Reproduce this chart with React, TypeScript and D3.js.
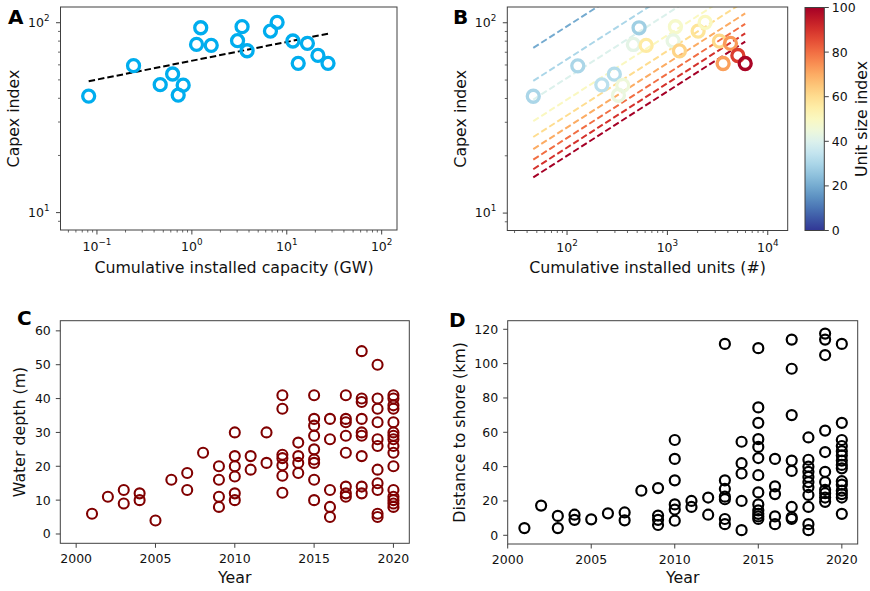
import React from 'react';
import * as d3 from 'd3';

// ---------- Panel A / B data ----------
const capacityGW = [0.0818, 0.243, 0.464, 0.627, 0.81, 0.718, 1.24, 1.12, 1.6, 3.38, 3.03, 3.82, 6.73, 7.91, 11.6, 16.5, 13.2, 21.3, 27.2];
const capexIndex = [41.1, 59.4, 47.2, 53.7, 46.9, 41.6, 94.1, 76.9, 76.0, 95.3, 80.4, 71.2, 90.4, 100.5, 80.1, 77.9, 61.1, 67.3, 61.1];
const cumUnits = [46.1, 128, 222, 296, 359, 325, 522, 458, 614, 1202, 1140, 1318, 2024, 2377, 3300, 4250, 3590, 5035, 5960];
const unitSize = [30, 30, 33, 32, 45, 44, 28, 42, 56, 48, 43, 62, 58, 50, 61, 73, 72, 88, 99];
const fitCapacity = [0.0818, 27.2];
const fitCapex = [49.2, 87.5];
const curveSizes = [20, 30, 40, 50, 60, 70, 80, 90, 100];
const curveUnits = [46.1, 5960];
const curveStartCapex = [73.8, 49.5, 39.5, 30.4, 25.1, 21.7, 19.1, 17.0, 15.4];
const curveEndCapex = [381, 256, 204, 157, 130, 112, 98.7, 87.9, 79.6];

// ---------- Panel C data ----------
const depthYears = [2001, 2002, 2003, 2004, 2005, 2006, 2007, 2008, 2009, 2010, 2011, 2012, 2013, 2014, 2015, 2016, 2017, 2018, 2019, 2020];
const depthValues = [
  [6], [11], [13, 9], [12, 10], [4], [16], [18, 13], [24], [20, 16, 11, 8],
  [30, 23, 20, 17, 12, 10], [23, 19], [30, 21],
  [41, 37, 23.4, 22.4, 20.3, 17.2, 12.2], [27, 23, 21, 18],
  [41, 34, 32, 29, 25, 22, 21, 16, 10], [34, 28, 13, 8, 5],
  [41, 34, 33, 29, 24, 14, 12, 11], [54, 40, 39, 34, 30, 29, 23, 14, 12],
  [50, 40, 37, 33, 28, 26, 19, 15, 13, 6, 5],
  [41, 40, 38, 37, 33, 30, 29, 28, 26, 24, 20, 13, 11, 10, 9, 8],
];

// ---------- Panel D data ----------
const shoreYears = [2001, 2002, 2003, 2004, 2005, 2006, 2007, 2008, 2009, 2010, 2011, 2012, 2013, 2014, 2015, 2016, 2017, 2018, 2019, 2020];
const shoreValues = [
  [4.2], [17.3], [11.3, 4.2], [12, 9], [9.3], [12.8], [13.3, 8.7], [26], [27.5, 11.5, 9, 6],
  [55.5, 44.5, 32, 18, 15, 8.5], [20, 16.5], [22, 12],
  [111.5, 32, 27, 22.5, 21, 9.5, 6.5], [54.5, 42, 36, 20, 3],
  [109, 74.5, 65.5, 56, 51.5, 45, 35, 25, 18, 14.5, 12.5, 11, 9.5],
  [44.5, 28.5, 24, 11, 6.5],
  [114, 97, 70, 43.5, 37.5, 16.5, 10.5, 9.5],
  [57, 44, 40, 37, 34, 31, 28, 23.5, 16.5, 6.5, 3],
  [117.5, 114, 105, 61, 48.5, 37, 31, 26.5, 24.5, 22, 19.5],
  [111.5, 65.5, 55.5, 52, 49, 46.5, 43.5, 41, 39, 31.5, 29.5, 26, 24, 22, 12.5],
];

const yearTicks = [2000, 2005, 2010, 2015, 2020];
const depthTicks = [0, 10, 20, 30, 40, 50, 60];
const shoreTicks = [0, 20, 40, 60, 80, 100, 120];
const colorbarTicks = [0, 20, 40, 60, 80, 100];

const FONT = 'DejaVu Sans, sans-serif';
const AX = '#404040';
const TICK_FS = 12.5;
const LABEL_FS = 15.8;
const TL = 4.5;

const cmap = (v: number) => d3.interpolateRdYlBu(1 - v / 100);
const supMap: Record<string, string> = { '-': '\u2212' };

function logTicks(domain: number[]) {
  const [a, b] = domain;
  const majors: number[] = [];
  const minors: number[] = [];
  for (let e = Math.floor(Math.log10(a)); e <= Math.ceil(Math.log10(b)); e++) {
    const p = Math.pow(10, e);
    if (p >= a && p <= b) majors.push(p);
    for (let k = 2; k <= 9; k++) {
      const v = k * p;
      if (v >= a && v <= b) minors.push(v);
    }
  }
  return { majors, minors };
}

function Frame({ x0, x1, y0, y1 }: any) {
  return <rect x={x0} y={y0} width={x1 - x0} height={y1 - y0} fill="none" stroke={AX} strokeWidth={1} />;
}

function LogXAxis({ scale, y }: any) {
  const { majors, minors } = logTicks(scale.domain());
  return (
    <g>
      {minors.map((v: number, i: number) => (
        <line key={'m' + i} x1={scale(v)} x2={scale(v)} y1={y} y2={y + 2.5} stroke={AX} strokeWidth={0.8} />
      ))}
      {majors.map((v: number, i: number) => {
        const e = Math.round(Math.log10(v));
        const es = String(e).split('').map((c) => supMap[c] || c).join('');
        return (
          <g key={'M' + i}>
            <line x1={scale(v)} x2={scale(v)} y1={y} y2={y + TL} stroke={AX} strokeWidth={1} />
            <text x={scale(v)} y={y + 21} textAnchor="middle" fontSize={TICK_FS} fontFamily={FONT} fill="#111">
              10<tspan dy={-6} fontSize={8.8}>{es}</tspan>
            </text>
          </g>
        );
      })}
    </g>
  );
}

function LogYAxis({ scale, x }: any) {
  const { majors, minors } = logTicks(scale.domain());
  return (
    <g>
      {minors.map((v: number, i: number) => (
        <line key={'m' + i} x1={x - 2.5} x2={x} y1={scale(v)} y2={scale(v)} stroke={AX} strokeWidth={0.8} />
      ))}
      {majors.map((v: number, i: number) => {
        const e = Math.round(Math.log10(v));
        return (
          <g key={'M' + i}>
            <line x1={x - TL} x2={x} y1={scale(v)} y2={scale(v)} stroke={AX} strokeWidth={1} />
            <text x={x - 11} y={scale(v) + 4.3} textAnchor="end" fontSize={TICK_FS} fontFamily={FONT} fill="#111">
              10<tspan dy={-6} fontSize={8.8}>{String(e)}</tspan>
            </text>
          </g>
        );
      })}
    </g>
  );
}

function LinXAxis({ scale, y, ticks }: any) {
  return (
    <g>
      {ticks.map((v: number) => (
        <g key={v}>
          <line x1={scale(v)} x2={scale(v)} y1={y} y2={y + TL} stroke={AX} strokeWidth={1} />
          <text x={scale(v)} y={y + 19.5} textAnchor="middle" fontSize={TICK_FS} fontFamily={FONT} fill="#111">{v}</text>
        </g>
      ))}
    </g>
  );
}

function LinYAxis({ scale, x, ticks }: any) {
  return (
    <g>
      {ticks.map((v: number) => (
        <g key={v}>
          <line x1={x - TL} x2={x} y1={scale(v)} y2={scale(v)} stroke={AX} strokeWidth={1} />
          <text x={x - 9.5} y={scale(v) + 4.5} textAnchor="end" fontSize={TICK_FS} fontFamily={FONT} fill="#111">{v}</text>
        </g>
      ))}
    </g>
  );
}

function XLabel({ x, y, text }: any) {
  return <text x={x} y={y} textAnchor="middle" fontSize={LABEL_FS} fontFamily={FONT} fill="#111">{text}</text>;
}
function YLabel({ x, y, text }: any) {
  return (
    <text transform={`translate(${x},${y}) rotate(-90)`} textAnchor="middle" fontSize={LABEL_FS} fontFamily={FONT} fill="#111">{text}</text>
  );
}
function PanelLetter({ x, y, text }: any) {
  return <text x={x} y={y} fontSize={20} fontWeight="bold" fontFamily={FONT} fill="#000">{text}</text>;
}

export default function App() {
  const A = { x0: 60.5, x1: 397, y0: 7, y1: 230 };
  const B = { x0: 507.3, x1: 787.7, y0: 7, y1: 230.5 };
  const C = { x0: 60.3, x1: 409.3, y0: 320.7, y1: 543.3 };
  const D = { x0: 507.7, x1: 857.7, y0: 320.7, y1: 544 };
  const CB = { x0: 805, x1: 824.3, y0: 7.5, y1: 230.5 };

  const xA = d3.scaleLog().domain([0.0413, 145]).range([A.x0, A.x1]);
  const yA = d3.scaleLog().domain([8.1, 121]).range([A.y1, A.y0]);
  const xB = d3.scaleLog().domain([25.4, 15800]).range([B.x0, B.x1]);
  const yB = d3.scaleLog().domain([8.1, 121]).range([B.y1, B.y0]);
  const xC = d3.scaleLinear().domain([1999, 2021]).range([C.x0, C.x1]);
  const yC = d3.scaleLinear().domain([-2.75, 63]).range([C.y1, C.y0]);
  const xD = d3.scaleLinear().domain([2000, 2020.95]).range([D.x0, D.x1]);
  const yD = d3.scaleLinear().domain([-5.07, 125]).range([D.y1, D.y0]);
  const cbScale = d3.scaleLinear().domain([0, 100]).range([CB.y1, CB.y0]);

  const lineA = d3.line<number>().x((d, i) => xA(fitCapacity[i])).y((d) => yA(d));
  const gradStops = d3.range(0, 1.0001, 0.05);

  return (
    <svg width={870} height={591} style={{ position: 'absolute', left: 0, top: 0, background: '#fff' }}>
      <defs>
        <clipPath id="clipA"><rect x={A.x0} y={A.y0} width={A.x1 - A.x0} height={A.y1 - A.y0} /></clipPath>
        <clipPath id="clipB"><rect x={B.x0} y={B.y0} width={B.x1 - B.x0} height={B.y1 - B.y0} /></clipPath>
        <clipPath id="clipC"><rect x={C.x0} y={C.y0} width={C.x1 - C.x0} height={C.y1 - C.y0} /></clipPath>
        <clipPath id="clipD"><rect x={D.x0} y={D.y0} width={D.x1 - D.x0} height={D.y1 - D.y0} /></clipPath>
        <linearGradient id="cbGrad" x1="0" y1="1" x2="0" y2="0">
          {gradStops.map((t) => (
            <stop key={t} offset={t} stopColor={cmap(t * 100)} />
          ))}
        </linearGradient>
      </defs>
      <rect x={0} y={0} width={870} height={591} fill="#fff" />

      {/* Panel A */}
      <g clipPath="url(#clipA)">
        <path d={lineA(fitCapex) || ''} fill="none" stroke="#000" strokeWidth={2} strokeDasharray="6.5,3" />
        {capexIndex.map((v, i) => (
          <circle key={i} cx={xA(capacityGW[i])} cy={yA(v)} r={6} fill="none" stroke="#00adee" strokeWidth={3.3} />
        ))}
      </g>
      <Frame {...A} />
      <LogXAxis scale={xA} y={A.y1} />
      <LogYAxis scale={yA} x={A.x0} />
      <XLabel x={234} y={273} text="Cumulative installed capacity (GW)" />
      <YLabel x={18.5} y={(A.y0 + A.y1) / 2} text="Capex index" />
      <PanelLetter x={8} y={24} text="A" />

      {/* Panel B */}
      <g clipPath="url(#clipB)">
        {curveSizes.map((s, k) => (
          <line key={k} x1={xB(curveUnits[0])} x2={xB(curveUnits[1])} y1={yB(curveStartCapex[k])} y2={yB(curveEndCapex[k])}
            stroke={cmap(s)} strokeWidth={2} strokeDasharray="6.5,3" />
        ))}
        {capexIndex.map((v, i) => (
          <circle key={i} cx={xB(cumUnits[i])} cy={yB(v)} r={6} fill="none" stroke={cmap(unitSize[i])} strokeWidth={3.3} />
        ))}
      </g>
      <Frame {...B} />
      <LogXAxis scale={xB} y={B.y1} />
      <LogYAxis scale={yB} x={B.x0} />
      <XLabel x={(B.x0 + B.x1) / 2} y={273} text="Cumulative installed units (#)" />
      <YLabel x={466} y={(B.y0 + B.y1) / 2} text="Capex index" />
      <PanelLetter x={453} y={24} text="B" />

      {/* Colorbar */}
      <rect x={CB.x0} y={CB.y0} width={CB.x1 - CB.x0} height={CB.y1 - CB.y0} fill="url(#cbGrad)" stroke={AX} strokeWidth={1} />
      {colorbarTicks.map((v) => (
        <g key={v}>
          <line x1={CB.x1} x2={CB.x1 + TL} y1={cbScale(v)} y2={cbScale(v)} stroke={AX} strokeWidth={1} />
          <text x={CB.x1 + 7.5} y={cbScale(v) + 4.5} fontSize={TICK_FS} fontFamily={FONT} fill="#111">{v}</text>
        </g>
      ))}
      <YLabel x={867} y={(CB.y0 + CB.y1) / 2} text="Unit size index" />

      {/* Panel C */}
      <g clipPath="url(#clipC)">
        {depthYears.map((yr, i) =>
          depthValues[i].map((v, j) => (
            <circle key={i + '-' + j} cx={xC(yr)} cy={yC(v)} r={5} fill="none" stroke="#800000" strokeWidth={2.1} />
          ))
        )}
      </g>
      <Frame {...C} />
      <LinXAxis scale={xC} y={C.y1} ticks={yearTicks} />
      <LinYAxis scale={yC} x={C.x0} ticks={depthTicks} />
      <XLabel x={(C.x0 + C.x1) / 2} y={583} text="Year" />
      <YLabel x={24.5} y={(C.y0 + C.y1) / 2} text="Water depth (m)" />
      <PanelLetter x={17} y={324.5} text="C" />

      {/* Panel D */}
      <g clipPath="url(#clipD)">
        {shoreYears.map((yr, i) =>
          shoreValues[i].map((v, j) => (
            <circle key={i + '-' + j} cx={xD(yr)} cy={yD(v)} r={5} fill="none" stroke="#000" strokeWidth={2.2} />
          ))
        )}
      </g>
      <Frame {...D} />
      <LinXAxis scale={xD} y={D.y1} ticks={yearTicks} />
      <LinYAxis scale={yD} x={D.x0} ticks={shoreTicks} />
      <XLabel x={(D.x0 + D.x1) / 2} y={583} text="Year" />
      <YLabel x={465} y={(D.y0 + D.y1) / 2} text="Distance to shore (km)" />
      <PanelLetter x={449} y={326.5} text="D" />
    </svg>
  );
}
